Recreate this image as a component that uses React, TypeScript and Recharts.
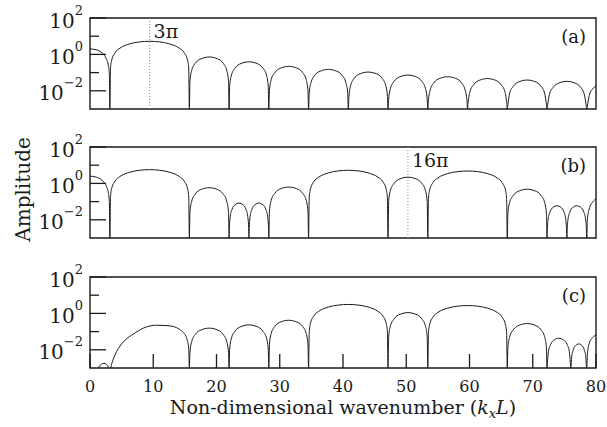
import React from 'react'
import { LineChart, Line, XAxis, YAxis, ReferenceArea, ReferenceLine } from 'recharts'

type Pt = [number, number]

// |A(kxL)| per lobe; the zeros sit on the 1e-3 floor of the log axis
const ampA: Pt[] = [
  [0, 2.0], [0.8, 1.85], [1.6, 1.45], [2.2, 0.95], [2.6, 0.55], [2.9, 0.25], [3.06, 0.08], [3.14, 0.001],
  [3.24, 0.16], [3.39, 0.42], [3.94, 1.21], [4.74, 2.2], [6.28, 3.78], [7.88, 4.88], [9.42, 5.25], [10.96, 4.88], [12.57, 3.78], [14.11, 2.2], [14.91, 1.21], [15.46, 0.42], [15.61, 0.16], [15.71, 0.001],
  [15.8, 0.034], [16.09, 0.135], [16.65, 0.327], [17.59, 0.582], [18.85, 0.72], [20.11, 0.582], [21.05, 0.327], [21.61, 0.135], [21.9, 0.034], [21.99, 0.001],
  [22.08, 0.018], [22.37, 0.073], [22.93, 0.177], [23.88, 0.316], [25.13, 0.39], [26.39, 0.316], [27.33, 0.177], [27.9, 0.073], [28.18, 0.018], [28.27, 0.001],
  [28.37, 0.0103], [28.65, 0.041], [29.22, 0.1], [30.16, 0.178], [31.42, 0.22], [32.67, 0.178], [33.62, 0.1], [34.18, 0.041], [34.46, 0.0103], [34.56, 0.001],
  [34.65, 0.0071], [34.94, 0.028], [35.5, 0.068], [36.44, 0.121], [37.7, 0.15], [38.96, 0.121], [39.9, 0.068], [40.46, 0.028], [40.75, 0.0071], [40.84, 0.001],
  [40.94, 0.005], [41.22, 0.02], [41.78, 0.049], [42.73, 0.087], [43.98, 0.107], [45.24, 0.087], [46.18, 0.049], [46.75, 0.02], [47.03, 0.005], [47.12, 0.001],
  [47.22, 0.0034], [47.5, 0.0137], [48.07, 0.033], [49.01, 0.059], [50.27, 0.073], [51.52, 0.059], [52.47, 0.033], [53.03, 0.0137], [53.31, 0.0034], [53.41, 0.001],
  [53.5, 0.0028], [53.78, 0.011], [54.35, 0.027], [55.29, 0.048], [56.55, 0.059], [57.81, 0.048], [58.75, 0.027], [59.31, 0.011], [59.6, 0.0028], [59.69, 0.001],
  [59.78, 0.0022], [60.07, 0.0088], [60.63, 0.021], [61.58, 0.038], [62.83, 0.047], [64.09, 0.038], [65.03, 0.021], [65.6, 0.0088], [65.88, 0.0022], [65.97, 0.001],
  [66.07, 0.0018], [66.35, 0.0073], [66.92, 0.0177], [67.86, 0.0316], [69.12, 0.039], [70.37, 0.0316], [71.31, 0.0177], [71.88, 0.0073], [72.16, 0.0018], [72.26, 0.001],
  [72.35, 0.0016], [72.63, 0.0062], [73.2, 0.015], [74.14, 0.0267], [75.4, 0.033], [76.66, 0.0267], [77.6, 0.015], [78.16, 0.0062], [78.45, 0.0016], [78.54, 0.001],
  [78.63, 0.0014], [78.92, 0.0054], [79.48, 0.013], [80, 0.018],
]

const ampB: Pt[] = [
  [0, 2.5], [0.8, 2.3], [1.6, 1.8], [2.2, 1.15], [2.6, 0.7], [2.9, 0.3], [3.06, 0.1], [3.14, 0.001],
  [3.24, 0.17], [3.39, 0.46], [3.94, 1.31], [4.74, 2.39], [6.28, 4.1], [7.88, 5.3], [9.42, 5.7], [10.96, 5.3], [12.57, 4.1], [14.11, 2.39], [14.91, 1.31], [15.46, 0.46], [15.61, 0.17], [15.71, 0.001],
  [15.8, 0.027], [16.09, 0.108], [16.65, 0.263], [17.59, 0.469], [18.85, 0.58], [20.11, 0.469], [21.05, 0.263], [21.61, 0.108], [21.9, 0.027], [21.99, 0.001],
  [22.04, 0.0039], [22.18, 0.0155], [22.46, 0.0377], [22.93, 0.067], [23.56, 0.083], [24.19, 0.067], [24.66, 0.0377], [24.94, 0.0155], [25.08, 0.0039], [25.13, 0.001],
  [25.18, 0.0039], [25.32, 0.0155], [25.6, 0.0377], [26.08, 0.067], [26.7, 0.083], [27.33, 0.067], [27.8, 0.0377], [28.08, 0.0155], [28.22, 0.0039], [28.27, 0.001],
  [28.37, 0.03], [28.65, 0.118], [29.22, 0.286], [30.16, 0.51], [31.42, 0.63], [32.67, 0.51], [33.62, 0.286], [34.18, 0.118], [34.46, 0.03], [34.56, 0.001],
  [34.66, 0.16], [34.81, 0.42], [35.36, 1.21], [36.16, 2.2], [37.7, 3.78], [39.3, 4.88], [40.84, 5.25], [42.38, 4.88], [43.98, 3.78], [45.52, 2.2], [46.32, 1.21], [46.87, 0.42], [47.02, 0.16], [47.12, 0.001],
  [47.22, 0.103], [47.5, 0.41], [48.07, 1.0], [49.01, 1.78], [50.27, 2.2], [51.52, 1.78], [52.47, 1.0], [53.03, 0.41], [53.31, 0.103], [53.41, 0.001],
  [53.51, 0.144], [53.66, 0.38], [54.21, 1.1], [55.01, 2.0], [56.55, 3.46], [58.15, 4.46], [59.69, 4.8], [61.23, 4.46], [62.83, 3.46], [64.37, 2.0], [65.17, 1.1], [65.72, 0.38], [65.87, 0.144], [65.97, 0.001],
  [66.07, 0.0226], [66.35, 0.09], [66.92, 0.218], [67.86, 0.388], [69.12, 0.48], [70.37, 0.388], [71.31, 0.218], [71.88, 0.09], [72.16, 0.0226], [72.26, 0.001],
  [72.3, 0.0028], [72.44, 0.011], [72.73, 0.027], [73.2, 0.048], [73.83, 0.059], [74.46, 0.048], [74.93, 0.027], [75.21, 0.011], [75.35, 0.0028], [75.4, 0.001],
  [75.44, 0.0028], [75.58, 0.011], [75.87, 0.027], [76.34, 0.048], [76.97, 0.059], [77.6, 0.048], [78.07, 0.027], [78.35, 0.011], [78.49, 0.0028], [78.54, 0.001],
  [78.63, 0.01], [78.92, 0.039], [79.48, 0.095], [80, 0.14],
]

const ampC: Pt[] = [
  [0, 0.0001], [0.8, 0.0004], [1.3, 0.001], [1.7, 0.0015], [2.2, 0.0018], [2.6, 0.0016], [2.9, 0.0011], [3.14, 0.0001],
  [3.3, 0.001], [3.5, 0.002], [3.7, 0.0032], [4.2, 0.008], [4.74, 0.016], [5.7, 0.038], [6.85, 0.073], [8.43, 0.155], [10.5, 0.224], [12.0, 0.215], [13.2, 0.19], [14.2, 0.13], [14.75, 0.09], [15.4, 0.032], [15.62, 0.01], [15.71, 0.001],
  [15.8, 0.0073], [16.09, 0.029], [16.65, 0.07], [17.59, 0.125], [18.85, 0.155], [20.11, 0.125], [21.05, 0.07], [21.61, 0.029], [21.9, 0.0073], [21.99, 0.001],
  [22.08, 0.011], [22.37, 0.044], [22.93, 0.106], [23.88, 0.189], [25.13, 0.234], [26.39, 0.189], [27.33, 0.106], [27.9, 0.044], [28.18, 0.011], [28.27, 0.001],
  [28.37, 0.02], [28.65, 0.079], [29.22, 0.191], [30.16, 0.34], [31.42, 0.42], [32.67, 0.34], [33.62, 0.191], [34.18, 0.079], [34.46, 0.02], [34.56, 0.001],
  [34.66, 0.093], [34.81, 0.25], [35.36, 0.71], [36.16, 1.3], [37.7, 2.23], [39.3, 2.88], [40.84, 3.1], [42.38, 2.88], [43.98, 2.23], [45.52, 1.3], [46.32, 0.71], [46.87, 0.25], [47.02, 0.093], [47.12, 0.001],
  [47.22, 0.052], [47.5, 0.206], [48.07, 0.5], [49.01, 0.89], [50.27, 1.1], [51.52, 0.89], [52.47, 0.5], [53.03, 0.206], [53.31, 0.052], [53.41, 0.001],
  [53.51, 0.081], [53.66, 0.216], [54.21, 0.62], [55.01, 1.13], [56.55, 1.94], [58.15, 2.51], [59.69, 2.7], [61.23, 2.51], [62.83, 1.94], [64.37, 1.13], [65.17, 0.62], [65.72, 0.216], [65.87, 0.081], [65.97, 0.001],
  [66.07, 0.013], [66.35, 0.052], [66.92, 0.125], [67.86, 0.223], [69.12, 0.276], [70.37, 0.223], [71.31, 0.125], [71.88, 0.052], [72.16, 0.013], [72.26, 0.001],
  [72.32, 0.002], [72.48, 0.008], [72.82, 0.0195], [73.38, 0.0348], [74.13, 0.043], [74.87, 0.0348], [75.44, 0.0195], [75.78, 0.008], [75.94, 0.002], [76.0, 0.001],
  [76.04, 0.0011], [76.15, 0.0039], [76.38, 0.0095], [76.76, 0.017], [77.27, 0.021], [77.78, 0.017], [78.16, 0.0095], [78.39, 0.0039], [78.5, 0.0011], [78.54, 0.001],
  [78.63, 0.005], [78.92, 0.022], [79.48, 0.048], [80, 0.065],
]

const kTicks = [0, 10, 20, 30, 40, 50, 60, 70, 80]
const ampTicks = [100, 10, 1, 0.1, 0.01]
const ampExponents: Record<string, string> = { '100': '2', '1': '0', '0.01': '−2' }
const panelTags = ['(a)', '(b)', '(c)']
const markers = [{ k: 9.4248, text: '3π' }, { k: 50.265, text: '16π' }, null]

const INK = '#1a1a1a'
const FONT = "'DejaVu Serif', serif"
const PANEL_TOPS = [18, 147, 277]
const PLOT_H = 91
const PAD_TOP = 16

function AmpTick({ x, y, payload }: any) {
  const exp = ampExponents[String(payload.value)]
  const major = exp !== undefined
  return (
    <g>
      <line x1={x} x2={x + (major ? 16 : 9)} y1={y} y2={y} stroke={INK} strokeWidth={1.3} />
      {major && (
        <text x={x - 7} y={y + 9.5} textAnchor="end" fontSize={20} fill={INK} fontFamily={FONT}>
          10<tspan dy={-13} fontSize={13}>{exp}</tspan>
        </text>
      )}
    </g>
  )
}

function makeKTick(showLabel: boolean) {
  return ({ x, y, payload }: any) => (
    <g>
      <line x1={x} x2={x} y1={y} y2={y - 14} stroke={INK} strokeWidth={1.3} />
      {showLabel && (
        <text x={x} y={y + 24} textAnchor="middle" fontSize={16} fill={INK} fontFamily={FONT}>
          {payload.value}
        </text>
      )}
    </g>
  )
}

function PanelTag({ viewBox, text }: any) {
  return (
    <text x={viewBox.x + viewBox.width - 10} y={viewBox.y + 25} textAnchor="end" fontSize={18} fill={INK} fontFamily={FONT}>
      {text}
    </text>
  )
}

function MarkerLabel({ viewBox, text }: any) {
  return (
    <text x={viewBox.x + 4} y={viewBox.y + 20} fontSize={19} fill={INK} fontFamily={FONT}>
      {text}
    </text>
  )
}

function KTitle({ viewBox }: any) {
  return (
    <text x={viewBox.x + viewBox.width / 2} y={viewBox.y + 46} textAnchor="middle" fontSize={19} fill={INK} fontFamily={FONT}>
      Non-dimensional wavenumber (<tspan fontStyle="italic">k</tspan>
      <tspan fontStyle="italic" fontSize={13} dy={4}>x</tspan>
      <tspan fontStyle="italic" dy={-4}>L</tspan>)
    </text>
  )
}

function AmpTitle({ viewBox }: any) {
  const cx = 23
  const cy = viewBox.y + viewBox.height / 2 - 3
  return (
    <text x={cx} y={cy} transform={`rotate(-90 ${cx} ${cy})`} textAnchor="middle" dominantBaseline="central" fontSize={20} fill={INK} fontFamily={FONT}>
      Amplitude
    </text>
  )
}

function Panel({ idx, points }: { idx: number; points: Pt[] }) {
  const last = idx === 2
  const data = points.map(([k, amp]) => ({ k, amp }))
  const marker = markers[idx]
  const axisH = last ? 50 : 0
  return (
    <div style={{ position: 'absolute', left: 0, top: PANEL_TOPS[idx] - PAD_TOP }}>
      <LineChart
        width={607}
        height={PAD_TOP + PLOT_H + axisH + 4}
        data={data}
        margin={{ top: PAD_TOP, right: 11, bottom: 4, left: 0 }}
      >
        <XAxis
          dataKey="k"
          type="number"
          domain={[0, 80]}
          ticks={kTicks}
          interval={0}
          height={axisH}
          axisLine={false}
          tickLine={false}
          tickSize={0}
          tickMargin={0}
          tick={makeKTick(last)}
          label={last ? <KTitle /> : undefined}
        />
        <YAxis
          type="number"
          scale="log"
          domain={[0.001, 100]}
          allowDataOverflow
          ticks={ampTicks}
          interval={0}
          width={90}
          axisLine={false}
          tickLine={false}
          tickSize={0}
          tickMargin={0}
          tick={<AmpTick />}
          label={idx === 1 ? <AmpTitle /> : undefined}
        />
        <ReferenceArea
          x1={0}
          x2={80}
          y1={0.001}
          y2={100}
          fill="none"
          stroke={INK}
          strokeWidth={1.4}
          label={<PanelTag text={panelTags[idx]} />}
        />
        {marker && (
          <ReferenceLine
            x={marker.k}
            stroke="#888"
            strokeWidth={1}
            strokeDasharray="1 2"
            label={<MarkerLabel text={marker.text} />}
          />
        )}
        <Line
          dataKey="amp"
          type="monotone"
          stroke={INK}
          strokeWidth={1}
          dot={false}
          isAnimationActive={false}
        />
      </LineChart>
    </div>
  )
}

export default function App() {
  return (
    <div
      style={{
        position: 'absolute',
        left: 0,
        top: 0,
        width: 607,
        height: 427,
        background: '#fff',
        fontFamily: FONT,
      }}
    >
      <Panel idx={0} points={ampA} />
      <Panel idx={1} points={ampB} />
      <Panel idx={2} points={ampC} />
    </div>
  )
}
